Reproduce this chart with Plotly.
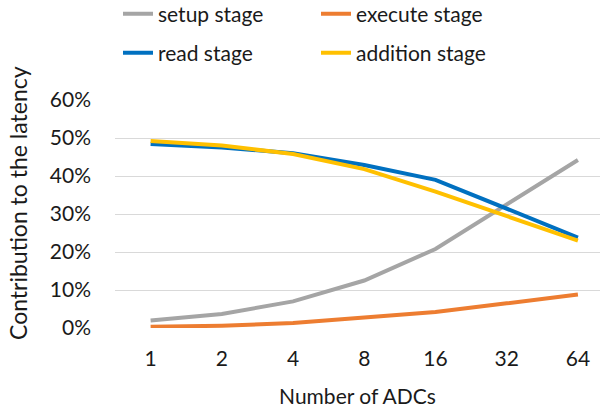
import plotly.graph_objects as go

categories = ["1", "2", "4", "8", "16", "32", "64"]
setup_stage = [2.0, 3.7, 7.0, 12.5, 20.8, 32.5, 44.2]
execute_stage = [0.3, 0.6, 1.3, 2.7, 4.2, 6.5, 8.8]
read_stage = [48.4, 47.5, 46.0, 42.9, 39.0, 31.3, 23.8]
addition_stage = [49.2, 48.0, 45.8, 41.8, 35.9, 29.5, 23.0]
y_ticks = [0, 10, 20, 30, 40, 50, 60]
y_tick_labels = [f"{v}%" for v in y_ticks]

FONT = "Lato"
FS = 21
TXT = "#1a1a1a"
series = [
    ("setup stage", setup_stage, "#A5A5A5", "legend"),
    ("execute stage", execute_stage, "#ED7D31", "legend"),
    ("read stage", read_stage, "#0070C0", "legend2"),
    ("addition stage", addition_stage, "#FFC000", "legend2"),
]

fig = go.Figure()
for name, vals, color, lg in series:
    fig.add_trace(go.Scatter(
        x=categories, y=vals, name=name, mode="lines",
        line=dict(color=color, width=4),
        legend=lg,
    ))

legend_common = dict(
    orientation="h", xref="container", yref="container",
    xanchor="left", yanchor="middle",
    entrywidth=153, entrywidthmode="pixels",
    font=dict(family=FONT, size=FS, color=TXT),
    bgcolor="rgba(0,0,0,0)", borderwidth=0,
    itemwidth=30,
)

fig.update_layout(
    width=604, height=411,
    margin=dict(l=115, r=4, t=100, b=83),
    paper_bgcolor="white", plot_bgcolor="white",
    font=dict(family=FONT, size=FS, color=TXT),
    showlegend=True,
    legend=dict(x=118 / 604, y=1 - 14 / 411, **legend_common),
    legend2=dict(x=118 / 604, y=1 - 53 / 411, **legend_common),
    xaxis=dict(
        type="category", showgrid=False, zeroline=False, showline=False,
        ticks="", tickfont=dict(family=FONT, size=FS, color=TXT),
        ticklabelstandoff=16,
        title=dict(text="Number of ADCs", font=dict(family=FONT, size=FS, color=TXT), standoff=20),
        range=[-0.5, 6.31],
    ),
    yaxis=dict(
        range=[0, 60], tickvals=y_ticks, ticktext=y_tick_labels,
        showgrid=True, gridcolor="#D9D9D9", gridwidth=1,
        zeroline=False, showline=False, ticks="",
        ticklabelstandoff=23,
        tickfont=dict(family=FONT, size=FS, color=TXT),
    ),
    annotations=[dict(
        text="Contribution to the latency", textangle=-90,
        xref="paper", yref="paper", x=-(115 - 18) / 485, y=(328 - 203) / 228,
        xanchor="center", yanchor="middle", showarrow=False,
        font=dict(family=FONT, size=23, color=TXT),
    )],
)

fig.write_html("out.html")
